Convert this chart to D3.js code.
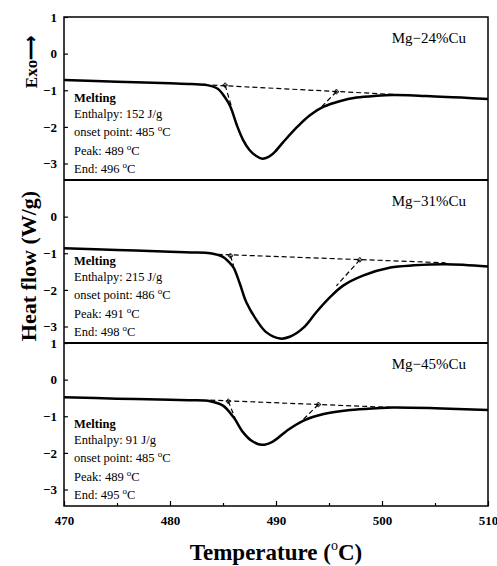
<!DOCTYPE html>
<meta charset="utf-8">
<body style="margin:0;background:#fff">
<style>
  text { font-family: "Times New Roman", "Liberation Serif", serif; fill: #000; }
  .curve { fill: none; stroke: #000; stroke-width: 2.5px; stroke-linejoin: round; }
  .dash { fill: none; stroke: #000; stroke-width: 1.2px; stroke-dasharray: 5,3; }
  .frame { fill: none; stroke: #000; stroke-width: 1.5px; }
  .axis path { display: none; }
  .axis line { stroke: #000; stroke-width: 1.2px; }
</style>
<script src="https://d3js.org/d3.v7.min.js"></script>
<script>

// DSC curves (temperature in °C, heat flow in W/g)
var temp1 = [470, 475, 480, 482, 483.5, 484.5, 485.2, 485.7, 486.3, 486.9, 487.5, 488.1, 488.7, 489.3, 489.8, 490.7, 492, 493.2, 494.5, 496, 497.6, 499.5, 501, 503, 505, 507.5, 510];
var flow1 = [-0.72, -0.77, -0.81, -0.83, -0.86, -0.96, -1.2, -1.45, -1.95, -2.36, -2.63, -2.79, -2.87, -2.82, -2.71, -2.41, -2.0, -1.68, -1.45, -1.3, -1.2, -1.15, -1.13, -1.14, -1.17, -1.2, -1.24];

var temp2 = [470, 475, 480, 482, 483.8, 485, 485.6, 486, 486.6, 487.2, 488.2, 489.1, 490.4, 491.3, 492.6, 493.8, 495.1, 496.3, 498.2, 500.8, 503, 506, 510];
var flow2 = [-0.86, -0.91, -0.96, -0.98, -1.0, -1.1, -1.25, -1.39, -1.84, -2.34, -2.84, -3.16, -3.33, -3.28, -3.03, -2.61, -2.2, -1.89, -1.61, -1.39, -1.33, -1.3, -1.36];

var temp3 = [470, 475, 480, 482, 483.8, 485, 486, 486.9, 487.7, 488.65, 489.7, 491, 492.6, 494.5, 497, 499.5, 501, 505, 510];
var flow3 = [-0.48, -0.52, -0.55, -0.56, -0.59, -0.71, -1.03, -1.44, -1.67, -1.78, -1.69, -1.4, -1.12, -0.94, -0.83, -0.78, -0.76, -0.78, -0.83];

// dashed construction lines: [start, end]
var baseT = [[484, 501.5], [484.5, 506], [483.8, 501]];
var baseV = [[-0.86, -1.12], [-1.03, -1.26], [-0.56, -0.76]];
var onsetT = [[485.2, 485.8], [485.7, 486.0], [485.5, 486.3]];
var onsetV = [[-0.86, -1.45], [-1.07, -1.34], [-0.59, -1.17]];
var endT = [[495.7, 494.0], [497.9, 495.7], [494.0, 492.6]];
var endV = [[-1.04, -1.54], [-1.18, -1.89], [-0.68, -1.08]];

var alloys = ["Mg\u221224%Cu", "Mg\u221231%Cu", "Mg\u221245%Cu"];
var enthalpy = ["152", "215", "91"];
var onset = ["485", "486", "485"];
var peak = ["489", "491", "489"];
var endPt = ["496", "498", "495"];

var xTicks = [470, 480, 490, 500, 510];
var xMinor = [475, 485, 495, 505];
var yTicks = [[1, 0, -1, -2, -3], [0, -1, -2, -3], [1, 0, -1, -2, -3]];

var width = 497, height = 566;
var left = 64, right = 488, top0 = 17, panelH = 163;

var svg = d3.select("body").append("svg")
  .attr("width", width)
  .attr("height", height);

var x = d3.scaleLinear().domain([470, 510]).range([left, right]);

var temps = [temp1, temp2, temp3];
var flows = [flow1, flow2, flow3];

for (var p = 0; p < 3; p++) {
  var py = top0 + p * panelH;
  var y = d3.scaleLinear().domain([-3.45, 1]).range([py + panelH, py]);

  var line = d3.line()
    .x(function(d) { return x(d[0]); })
    .y(function(d) { return y(d[1]); });

  var pts = d3.zip(temps[p], flows[p]);
  svg.append("path")
    .attr("class", "curve")
    .attr("d", line.curve(d3.curveCatmullRom.alpha(0.5))(pts));

  var segs = [[baseT[p], baseV[p]], [onsetT[p], onsetV[p]], [endT[p], endV[p]]];
  segs.forEach(function(s) {
    svg.append("path")
      .attr("class", "dash")
      .attr("d", d3.line().x(function(d) { return x(d[0]); }).y(function(d) { return y(d[1]); })(d3.zip(s[0], s[1])));
  });

  // small cross marks where tangents meet the baseline
  [[onsetT[p][0], onsetV[p][0]], [endT[p][0], endV[p][0]]].forEach(function(c) {
    svg.append("path")
      .attr("d", d3.symbol().type(d3.symbolCross).size(10)())
      .attr("transform", "translate(" + x(c[0]) + "," + y(c[1]) + ")")
      .attr("fill", "none").attr("stroke", "#000").attr("stroke-width", 0.8);
  });

  svg.append("g")
    .attr("class", "axis")
    .attr("transform", "translate(" + left + ",0)")
    .call(d3.axisLeft(y).tickValues(yTicks[p]).tickSize(-4).tickPadding(7)
      .tickFormat(function(d) { return d < 0 ? "\u2212" + (-d) : d; }))
    .selectAll("text")
      .attr("font-family", '"Times New Roman", "Liberation Serif", serif')
      .attr("font-size", 13)
      .attr("font-weight", "bold");

  svg.append("text")
    .attr("x", 466).attr("y", py + 26)
    .attr("text-anchor", "end")
    .attr("font-size", 15)
    .text(alloys[p]);

  var tx = 74;
  svg.append("text").attr("x", tx).attr("y", py + 85)
    .attr("font-size", 12.5).attr("font-weight", "bold").text("Melting");
  svg.append("text").attr("x", tx).attr("y", py + 101)
    .attr("font-size", 12.5).text("Enthalpy: " + enthalpy[p] + " J/g");

  [["onset point: ", onset[p], 119], ["Peak: ", peak[p], 138], ["End: ", endPt[p], 156]].forEach(function(r) {
    var t = svg.append("text").attr("x", tx).attr("y", py + r[2]).attr("font-size", 12.5);
    t.append("tspan").text(r[0] + r[1] + " ");
    t.append("tspan").attr("font-size", 9).attr("dy", -5).text("o");
    t.append("tspan").attr("dy", 5).text("C");
  });

  if (p > 0) {
    svg.append("line")
      .attr("x1", left).attr("x2", right)
      .attr("y1", py).attr("y2", py)
      .attr("stroke", "#000").attr("stroke-width", 1.8);
  }
}

var bottom = top0 + 3 * panelH;

svg.append("rect")
  .attr("class", "frame")
  .attr("x", left).attr("y", top0)
  .attr("width", right - left).attr("height", bottom - top0);

svg.append("g")
  .attr("class", "axis")
  .attr("transform", "translate(0," + bottom + ")")
  .call(d3.axisBottom(x).tickValues(xTicks).tickSize(-5).tickPadding(10).tickFormat(d3.format("d")))
  .selectAll("text")
    .attr("font-family", '"Times New Roman", "Liberation Serif", serif')
    .attr("font-size", 13)
    .attr("font-weight", "bold");

svg.append("g")
  .attr("class", "axis")
  .attr("transform", "translate(0," + bottom + ")")
  .call(d3.axisBottom(x).tickValues(xMinor).tickSize(-3).tickFormat(""));

// axis titles
var xt = svg.append("text")
  .attr("x", (left + right) / 2).attr("y", 560)
  .attr("text-anchor", "middle")
  .attr("font-size", 23).attr("font-weight", "bold");
xt.append("tspan").text("Temperature (");
xt.append("tspan").attr("font-size", 14).attr("dy", -10).attr("font-weight", "normal").text("o");
xt.append("tspan").attr("dy", 10).text("C)");

svg.append("text")
  .attr("transform", "translate(36,266) rotate(-90)")
  .attr("text-anchor", "middle")
  .attr("font-size", 22).attr("font-weight", "bold")
  .text("Heat flow (W/g)");

svg.append("text")
  .attr("transform", "translate(37,62) rotate(-90)")
  .attr("text-anchor", "middle")
  .attr("font-size", 17).attr("font-weight", "bold")
  .text("Exo\u27f6");

</script>
</body>
